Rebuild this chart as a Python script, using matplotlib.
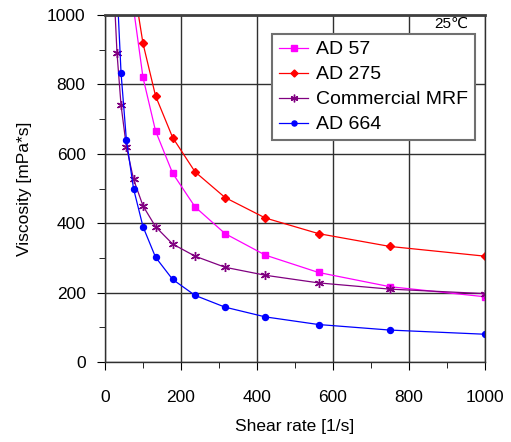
import numpy as np
import matplotlib
matplotlib.use('Agg')
import matplotlib.pyplot as plt
from matplotlib.ticker import MultipleLocator

plt.rcParams['font.family'] = ['Liberation Sans', 'DejaVu Sans', 'Noto Sans CJK JP']

# shear rate [1/s] and viscosity [mPa*s]
rate_664 = [31.6, 42.2, 56.2, 75, 100, 133, 178, 237, 316, 422, 562, 750, 1000]
visc_664 = [1080, 833, 641, 500, 390, 302, 238, 192, 158, 130, 108, 92, 80]

rate_mrf = [23.7, 31.6, 42.2, 56.2, 75, 100, 133, 178, 237, 316, 422, 562, 750, 1000]
visc_mrf = [1070, 890, 740, 621, 527, 450, 390, 340, 305, 273, 250, 228, 210, 197]

rate_57 = [75, 100, 133, 178, 237, 316, 422, 562, 750, 1000]
visc_57 = [1020, 820, 666, 544, 447, 370, 308, 258, 217, 188]

rate_275 = [75, 100, 133, 178, 237, 316, 422, 562, 750, 1000]
visc_275 = [1090, 918, 767, 647, 548, 474, 415, 370, 333, 305]

fig = plt.figure(figsize=(5.11, 4.42), dpi=100)
ax = fig.add_axes([0.2055, 0.181, 0.7435, 0.785])

ax.plot(rate_57, visc_57, color='#ff00ff', marker='s', ms=4.6, lw=0.9, label='AD 57')
ax.plot(rate_275, visc_275, color='#ff0000', marker='D', ms=4.2, lw=0.9, label='AD 275')
ax.plot(rate_mrf, visc_mrf, color='#800080', marker=(6, 2, 0), ms=6.5, mew=1.0, lw=0.9,
        label='Commercial MRF')
ax.plot(rate_664, visc_664, color='#0000ff', marker='o', ms=4.3, lw=0.9, label='AD 664')

ax.set_xlim(0, 1000)
ax.set_ylim(0, 1000)
ax.xaxis.set_major_locator(MultipleLocator(200))
ax.xaxis.set_minor_locator(MultipleLocator(100))
ax.yaxis.set_major_locator(MultipleLocator(200))
ax.yaxis.set_minor_locator(MultipleLocator(100))
ax.grid(True, which='major', color='#303030', lw=1.0)
ax.tick_params(which='major', direction='out', length=6, labelsize=12.5, pad=8)
ax.tick_params(axis='x', which='major', pad=14)
ax.tick_params(which='minor', direction='out', length=4)
for s in ax.spines.values():
    s.set_color('#303030')
    s.set_linewidth(1.0)
ax.spines['top'].set_linewidth(2.0)
ax.spines['top'].set_color('#404040')

ax.set_xlabel('Shear rate [1/s]', fontsize=12.5, labelpad=10)
ax.set_ylabel('Viscosity [mPa*s]', fontsize=12.5, labelpad=11)

leg = ax.legend(loc='upper right', bbox_to_anchor=(475 / 511, 1 - 34 / 442),
                bbox_transform=fig.transFigure, fontsize=14, frameon=True,
                fancybox=False, framealpha=1, edgecolor='#707070',
                handlelength=1.5, handletextpad=0.4, borderpad=0.35,
                labelspacing=0.38, borderaxespad=0, markerscale=0.85)
leg.get_frame().set_linewidth(1.5)

fig.text(451 / 511, 1 - 24 / 442, '25℃', ha='center', va='center', fontsize=11)

fig.savefig('out.png', dpi=100)
